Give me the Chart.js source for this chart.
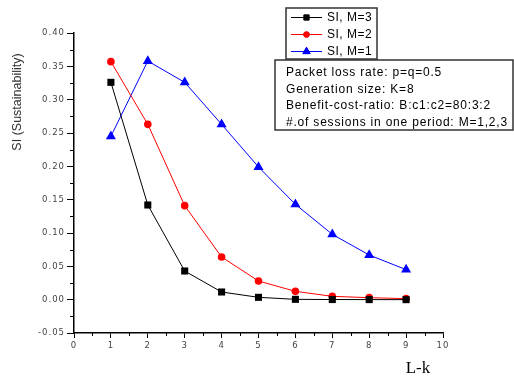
<!DOCTYPE html>
<html>
<head>
<meta charset="utf-8">
<script src="https://cdn.jsdelivr.net/npm/chart.js@4/dist/chart.umd.min.js"></script>
<style>
    html, body { margin: 0; padding: 0; background: #fff; }
    #wrap { position: relative; width: 514px; height: 382px; }
</style>
</head>
<body>
<div id="wrap"><canvas id="siChart" width="514" height="382"></canvas></div>
<script>
// L-k values on the x axis
const lk = [1, 2, 3, 4, 5, 6, 7, 8, 9];

// SI for each number of sessions per period
const siM3 = [0.326, 0.142, 0.043, 0.0115, 0.0035, 0.0005, 0.0002, 0.0001, 0.0];
const siM2 = [0.357, 0.263, 0.141, 0.064, 0.028, 0.0125, 0.005, 0.003, 0.0015];
const siM1 = [0.245, 0.358, 0.326, 0.263, 0.199, 0.143, 0.098, 0.067, 0.045];

const seriesNames = ['SI, M=3', 'SI, M=2', 'SI, M=1'];
const infoLines = [
    'Packet loss rate: p=q=0.5',
    'Generation size: K=8',
    'Benefit-cost-ratio: B:c1:c2=80:3:2',
    '#.of sessions in one period: M=1,2,3'
];

const yTicks = [-0.05, 0.00, 0.05, 0.10, 0.15, 0.20, 0.25, 0.30, 0.35, 0.40];
const xTicks = [0, 1, 2, 3, 4, 5, 6, 7, 8, 9, 10];

function toPoints(values) {
    return lk.map((x, i) => ({ x: x, y: values[i] }));
}

const styles = [
    { color: '#000000', point: 'rect', radius: 5 },
    { color: '#ff0000', point: 'circle', radius: 3.8 },
    { color: '#0000ff', point: 'triangle', radius: 5.8 }
];

// spaced-out tick labels
const spacing = {
    id: 'spacing',
    beforeDraw(chart) { chart.ctx.letterSpacing = '1px'; },
    afterDatasetsDraw(chart) { chart.ctx.letterSpacing = '0px'; }
};

// minor ticks, legend box, info box and axis titles
const decorations = {
    id: 'decorations',
    afterDraw(chart) {
        const ctx = chart.ctx;
        const xs = chart.scales.x;
        const ys = chart.scales.y;
        const area = chart.chartArea;

        ctx.save();
        ctx.strokeStyle = '#000';
        ctx.lineWidth = 1;
        ctx.beginPath();
        for (let v = 0.5; v < 10; v += 1) {
            const px = Math.round(xs.getPixelForValue(v)) + 0.5;
            ctx.moveTo(px, area.bottom);
            ctx.lineTo(px, area.bottom + 3);
        }
        for (let v = -0.025; v < 0.4; v += 0.05) {
            const py = Math.round(ys.getPixelForValue(v)) + 0.5;
            ctx.moveTo(area.left, py);
            ctx.lineTo(area.left - 4, py);
        }
        ctx.stroke();

        // legend
        ctx.fillStyle = '#fff';
        ctx.fillRect(286, 8, 91, 51);
        ctx.strokeStyle = '#333';
        ctx.lineWidth = 1.5;
        ctx.strokeRect(286, 8, 91, 51);
        ctx.font = '12px "Liberation Sans", Arial, sans-serif';
        ctx.textBaseline = 'middle';
        chart.data.datasets.forEach((ds, i) => {
            const y = 17 + i * 17;
            ctx.strokeStyle = ds.borderColor;
            ctx.lineWidth = 1;
            ctx.beginPath();
            ctx.moveTo(291, y + 0.5);
            ctx.lineTo(322, y + 0.5);
            ctx.stroke();
            Chart.helpers.drawPoint(ctx, {
                pointStyle: ds.pointStyle,
                radius: ds.pointRadius * 0.75,
                borderWidth: 1,
                rotation: 0
            }, 306.5, y + 0.5);
            ctx.fillStyle = ds.borderColor;
            ctx.fill();
            ctx.fillStyle = '#000';
            ctx.letterSpacing = '0.5px';
            ctx.fillText(seriesNames[i], 327, y + 1);
            ctx.letterSpacing = '0px';
        });

        // parameter box
        ctx.strokeStyle = '#333';
        ctx.lineWidth = 1.5;
        ctx.strokeRect(275, 60, 238, 70);
        ctx.fillStyle = '#000';
        ctx.letterSpacing = '0.8px';
        infoLines.forEach((t, i) => {
            ctx.fillText(t, 286, 73 + i * 16.4);
        });
        ctx.letterSpacing = '0px';

        // axis titles
        ctx.fillStyle = '#333';
        ctx.font = '12.5px "Liberation Sans", Arial, sans-serif';
        ctx.textAlign = 'center';
        ctx.translate(18, 102);
        ctx.rotate(-Math.PI / 2);
        ctx.fillText('SI (Sustainability)', 0, 0);
        ctx.setTransform(1, 0, 0, 1, 0, 0);
        ctx.fillStyle = '#000';
        ctx.font = '17px "Liberation Serif", "Times New Roman", serif';
        ctx.fillText('L-k', 418, 369);
        ctx.restore();
    }
};

const tickFont = { family: '"DejaVu Sans", sans-serif', size: 8.5 };

new Chart(document.getElementById('siChart'), {
    type: 'line',
    data: {
        datasets: [siM3, siM2, siM1].map((vals, i) => ({
            label: seriesNames[i],
            data: toPoints(vals),
            borderColor: styles[i].color,
            backgroundColor: styles[i].color,
            borderWidth: 1,
            pointStyle: styles[i].point,
            pointRadius: styles[i].radius,
            pointBorderWidth: 0,
            tension: 0
        }))
    },
    options: {
        responsive: false,
        animation: false,
        layout: { padding: { left: 0, right: 71, top: 33, bottom: 0 } },
        plugins: {
            legend: { display: false },
            tooltip: { enabled: false }
        },
        scales: {
            x: {
                type: 'linear',
                min: 0,
                max: 10,
                afterBuildTicks: s => { s.ticks = xTicks.map(v => ({ value: v })); },
                afterFit: s => { s.height = 49; },
                border: { display: true, color: '#000', width: 1.5 },
                grid: { drawOnChartArea: false, drawTicks: true, tickLength: 5, color: '#000' },
                ticks: { color: '#444', font: tickFont, padding: 3, maxRotation: 0,
                    callback: v => String(v) }
            },
            y: {
                min: -0.05,
                max: 0.40,
                afterBuildTicks: s => { s.ticks = yTicks.map(v => ({ value: v })); },
                afterFit: s => { s.width = 74; },
                border: { display: true, color: '#000', width: 1.5 },
                grid: { drawOnChartArea: false, drawTicks: true, tickLength: 7, color: '#000' },
                ticks: { color: '#444', font: tickFont, padding: 2,
                    callback: v => v.toFixed(2) }
            }
        }
    },
    plugins: [spacing, decorations]
});
</script>
</body>
</html>
